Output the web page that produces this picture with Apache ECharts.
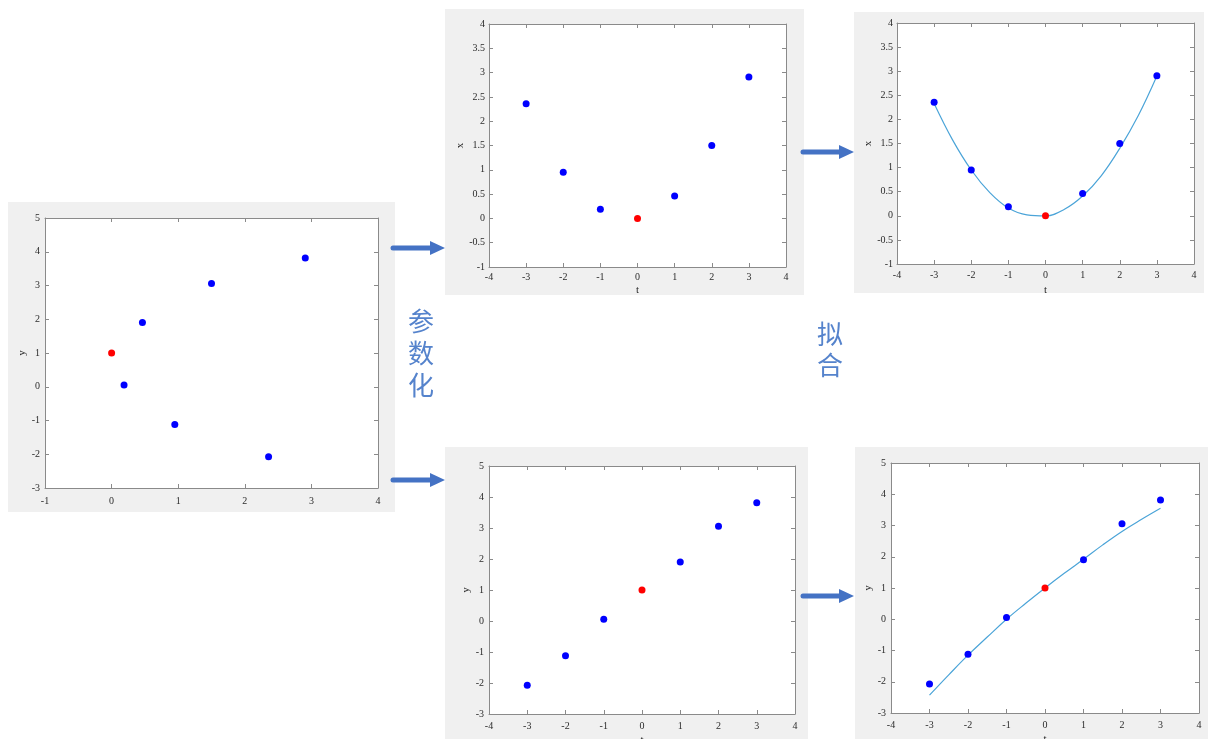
<!DOCTYPE html>
<html>
<head>
<meta charset="utf-8">
<title>参数化与拟合</title>
<script src="https://cdn.jsdelivr.net/npm/echarts@6/dist/echarts.min.js"></script>
<style>
  html, body { margin: 0; padding: 0; background: #fff; }
  #chart { width: 1208px; height: 739px; }
</style>
</head>
<body>
<div id="chart"></div>
<script>
// Sample points: parameter t and the coordinates x(t), y(t)
const T = [-3, -2, -1, 0, 1, 2, 3];
const X_VALS = [2.357, 0.949, 0.187, 0, 0.463, 1.5, 2.908];
const Y_VALS = [-2.074, -1.118, 0.054, 1, 1.906, 3.059, 3.818];
const ORIGIN_INDEX = 3; // point at t = 0, drawn in red

// Fitted curves x(t), y(t) sampled along t
const FIT_T = [-3, -2.5, -2, -1.5, -1, -0.5, 0, 0.5, 1, 1.5, 2, 2.5, 3];
const FIT_X = [2.33, 1.57, 0.95, 0.48, 0.16, 0.02, 0, 0.13, 0.41, 0.83, 1.40, 2.08, 2.90];
const FIT_Y = [-2.43, -1.78, -1.15, -0.57, 0.0, 0.51, 1.0, 1.47, 1.92, 2.38, 2.81, 3.19, 3.55];

// Axis ranges: [min, max, interval]
const RANGE_XY_X = [-1, 4, 1];
const RANGE_XY_Y = [-3, 5, 1];
const RANGE_T = [-4, 4, 1];
const RANGE_X = [-1, 4, 0.5];
const RANGE_Y = [-3, 5, 1];

// Captions
const LABEL_PARAM = ['参', '数', '化'];
const LABEL_FIT = ['拟', '合'];

const BLUE = '#0000ff';
const RED = '#ff0000';
const CURVE = '#4ba4d8';
const AXIS_COLOR = '#8a8a8a';
const TEXT_COLOR = '#2b2b2b';
const PANEL_BG = '#f0f0f0';
const ARROW = '#4472c4';
const SERIF = '"Liberation Serif", "Times New Roman", serif';

// Plot panels: grid box, grey backing box, axis names and gaps
const panels = [
  { grid: [45, 218, 333, 270], box: [8, 202, 387, 310], xr: RANGE_XY_X, yr: RANGE_XY_Y,
    xName: '', yName: 'y', xGap: 18, yGap: 17, xMargin: 8, yMargin: 5 },
  { grid: [489, 24, 297, 243], box: [445, 9, 359, 286], xr: RANGE_T, yr: RANGE_X,
    xName: 't', yName: 'x', xGap: 18, yGap: 22, xMargin: 5, yMargin: 4 },
  { grid: [897, 23, 297, 241], box: [854, 12, 350, 281], xr: RANGE_T, yr: RANGE_X,
    xName: 't', yName: 'x', xGap: 21, yGap: 22, xMargin: 6, yMargin: 4 },
  { grid: [489, 466, 306, 248], box: [445, 447, 363, 292], xr: RANGE_T, yr: RANGE_Y,
    xName: 't', yName: 'y', xGap: 21, yGap: 14, xMargin: 7, yMargin: 5 },
  { grid: [891, 463, 308, 250], box: [855, 447, 353, 292], xr: RANGE_T, yr: RANGE_Y,
    xName: 't', yName: 'y', xGap: 21, yGap: 15, xMargin: 7, yMargin: 5 }
];

function axisBase(gridIndex, r) {
  return {
    type: 'value', gridIndex: gridIndex,
    min: r[0], max: r[1], interval: r[2],
    axisLine: { show: true, onZero: false, lineStyle: { color: AXIS_COLOR, width: 1 } },
    axisTick: { show: true, inside: true, length: 4, lineStyle: { color: AXIS_COLOR, width: 1 } },
    splitLine: { show: false },
    axisLabel: { show: false }
  };
}

const grids = [], xAxes = [], yAxes = [], series = [], graphics = [];

panels.forEach(function (p, i) {
  grids.push({
    left: p.grid[0], top: p.grid[1], width: p.grid[2], height: p.grid[3],
    show: true, backgroundColor: '#ffffff', borderWidth: 0,
    containLabel: false, outerBoundsMode: 'none'
  });
  graphics.push({
    type: 'rect', z: -5, silent: true,
    shape: { x: p.box[0], y: p.box[1], width: p.box[2], height: p.box[3] },
    style: { fill: PANEL_BG }
  });

  const xb = axisBase(i, p.xr);
  xb.position = 'bottom';
  xb.axisLabel = { show: true, margin: p.xMargin, fontFamily: SERIF, fontSize: 10, color: TEXT_COLOR };
  xb.name = p.xName;
  xb.nameLocation = 'middle';
  xb.nameGap = p.xGap;
  xb.nameTextStyle = { fontFamily: SERIF, fontSize: 11, color: TEXT_COLOR };
  const xt = axisBase(i, p.xr);
  xt.position = 'top';
  xAxes.push(xb, xt);

  const yl = axisBase(i, p.yr);
  yl.position = 'left';
  yl.axisLabel = { show: true, margin: p.yMargin, fontFamily: SERIF, fontSize: 10, color: TEXT_COLOR };
  yl.name = p.yName;
  yl.nameLocation = 'middle';
  yl.nameGap = p.yGap;
  yl.nameRotate = 90;
  yl.nameTextStyle = { fontFamily: SERIF, fontSize: 11, color: TEXT_COLOR };
  const yr = axisBase(i, p.yr);
  yr.position = 'right';
  yAxes.push(yl, yr);
});

function pointStyle() {
  return { opacity: 1, color: function (d) { return d.dataIndex === ORIGIN_INDEX ? RED : BLUE; } };
}

function scatter(panelIndex, xs, ys) {
  return {
    type: 'scatter', xAxisIndex: panelIndex * 2, yAxisIndex: panelIndex * 2,
    symbol: 'circle', symbolSize: 7, z: 3, silent: true,
    itemStyle: pointStyle(),
    data: xs.map(function (v, k) { return [v, ys[k]]; })
  };
}

function curve(panelIndex, ts, vs) {
  return {
    type: 'line', xAxisIndex: panelIndex * 2, yAxisIndex: panelIndex * 2,
    smooth: 0.4, showSymbol: false, symbol: 'none', z: 2, silent: true,
    lineStyle: { color: CURVE, width: 1.2 },
    data: ts.map(function (v, k) { return [v, vs[k]]; })
  };
}

series.push(
  scatter(0, X_VALS, Y_VALS),
  scatter(1, T, X_VALS),
  curve(2, FIT_T, FIT_X),
  scatter(2, T, X_VALS),
  scatter(3, T, Y_VALS),
  curve(4, FIT_T, FIT_Y),
  scatter(4, T, Y_VALS)
);

// Block arrows between panels
function arrow(x1, x2, y) {
  const headLen = 15, headHalf = 7;
  return {
    type: 'group', z: 10, silent: true,
    children: [
      { type: 'line', shape: { x1: x1, y1: y, x2: x2 - headLen + 2, y2: y },
        style: { stroke: ARROW, lineWidth: 5, lineCap: 'round' } },
      { type: 'polygon', shape: { points: [[x2 - headLen, y - headHalf], [x2, y], [x2 - headLen, y + headHalf]] },
        style: { fill: ARROW } }
    ]
  };
}
graphics.push(arrow(393, 445, 248), arrow(393, 445, 480), arrow(803, 854, 152), arrow(803, 854, 596));

// Vertical captions
function caption(chars, cx, cy0, step) {
  return chars.map(function (ch, k) {
    return {
      type: 'text', z: 10, silent: true, x: cx, y: cy0 + k * step,
      style: {
        text: ch, fill: '#5583cc', fontSize: 26,
        fontFamily: '"Noto Sans CJK SC", sans-serif', fontWeight: 'normal',
        textAlign: 'center', textVerticalAlign: 'middle'
      }
    };
  });
}
graphics.push.apply(graphics, caption(LABEL_PARAM, 421, 321, 32));
graphics.push.apply(graphics, caption(LABEL_FIT, 830, 334, 31));

const chart = echarts.init(document.getElementById('chart'), null, { renderer: 'canvas' });
chart.setOption({
  backgroundColor: '#ffffff',
  animation: false,
  grid: grids,
  xAxis: xAxes,
  yAxis: yAxes,
  series: series,
  graphic: { elements: graphics }
});
</script>
</body>
</html>
